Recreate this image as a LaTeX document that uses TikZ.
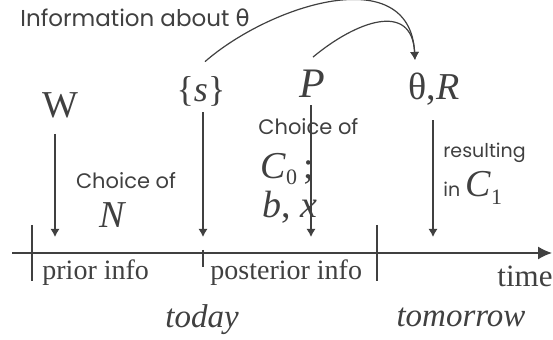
\documentclass[tikz,border=0pt]{standalone}
\usepackage{fontspec}
\setmainfont{Liberation Serif}
\newfontfamily\geofont{Poppins}
\newfontfamily\grkfont{DejaVu Sans}
\usetikzlibrary{arrows.meta,positioning}
\definecolor{ink}{HTML}{404040}
\tikzset{
  symb/.style={inner sep=0pt, text=ink, font=\fontsize{19}{19}\selectfont},
  stage/.style={inner sep=0pt, text=ink, font=\fontsize{14}{14}\selectfont},
  note/.style={inner sep=0pt, text=ink, font=\geofont\fontsize{10.5}{10.5}\selectfont},
  day/.style={inner sep=0pt, text=ink, font=\fontsize{16.5}{16.5}\selectfont\itshape},
  flow/.style={-{Latex[length=4pt,width=4.5pt]}, draw=ink, line width=0.6pt},
  timeline/.style={-{Latex[length=7pt,width=6.5pt]}, draw=ink, line width=0.7pt},
  divider/.style={draw=ink, line width=0.6pt}
}

\begin{document}
\begin{tikzpicture}[x=0.5pt,y=-0.5pt]
\useasboundingbox (0,0) rectangle (553,340);

% Top labels
\node[note, anchor=base west, font=\geofont\fontsize{11.5}{11.5}\selectfont]
  (info) at (20,27) {Information about {\grkfont θ}};
\node[symb, anchor=base] (W) at (60,118) {W};
\node[symb, anchor=base, font=\fontsize{18}{18}\selectfont] (s) at (201,102) {\{\textit{s}\}};
\node[symb, anchor=base, font=\fontsize{21}{21}\selectfont] (P) at (312,98) {\textit{P}};
\node[symb, anchor=base] (thetaR) at (434,100) {θ,\textit{R}};

% Choices between the arrows
\node[note, anchor=base] (choiceN) at (126,189) {Choice of};
\node[symb, anchor=base] (N) at (113,228) {\textit{N}};
\node[note, anchor=base west] (choiceC) at (258,135) {Choice of};
\node[symb, anchor=base west] (C0) at (260,179)
  {\textit{C}\raisebox{-0.15em}{\fontsize{11}{11}\selectfont 0}\,;};
\node[symb, anchor=base west] (bx) at (262,218) {\textit{b}, \textit{x}};
\node[note, anchor=base west, font=\geofont\fontsize{9.5}{9.5}\selectfont]
  (result) at (443,158) {resulting};
\node[note, anchor=base west, font=\geofont\fontsize{9.5}{9.5}\selectfont]
  (inC) at (443,197)
  {in {\fontsize{19}{19}\rmfamily\selectfont\textit{C}\raisebox{-0.2em}{\fontsize{11}{11}\selectfont 1}}};

% Time axis
\coordinate (axL) at (12,253);
\coordinate (axR) at (552,253);
\draw[timeline] (axL) -- (axR);
\coordinate (tkA) at (32,225);
\coordinate (tkB) at (203,250);
\coordinate (tkC) at (377,225);
\draw[divider] (tkA) -- ++(0,56);
\draw[divider] (tkB) -- ++(0,17);
\draw[divider] (tkC) -- ++(0,56);

\node[stage, anchor=base west] (prior) at (42,280) {prior info};
\node[stage, anchor=base west] (post) at (210,280) {posterior info};
\node[stage, anchor=base west, font=\fontsize{15.5}{15.5}\selectfont] (time) at (497,287) {time};
\node[day, anchor=base] (today) at (202,328) {today};
\node[day, anchor=base] (tomorrow) at (461,327) {tomorrow};

% Arrows down to the axis
\coordinate (wEnd) at (55,237);
\coordinate (sEnd) at (203,237);
\coordinate (pEnd) at (311,237);
\coordinate (rEnd) at (433,237);
\draw[flow, shorten <=7.5pt] (W.south -| wEnd) -- (wEnd);
\draw[flow, shorten <=2.5pt] (s.south -| sEnd) -- (sEnd);
\draw[flow, shorten <=3.5pt] (P.south -| pEnd) -- (pEnd);
\draw[flow, shorten <=7pt] (thetaR.south -| rEnd) -- (rEnd);

% Information about theta
\draw[flow] ([xshift=2pt,yshift=7.5pt]s.north)
  .. controls (270,5) and (410,-40) .. ([xshift=-9.5pt,yshift=6.5pt]thetaR.north);
\draw[flow] ([xshift=0.5pt,yshift=6.5pt]P.north)
  .. controls (355,22) and (412,0) .. ([xshift=-9.5pt,yshift=6.5pt]thetaR.north);

\end{tikzpicture}
\end{document}
